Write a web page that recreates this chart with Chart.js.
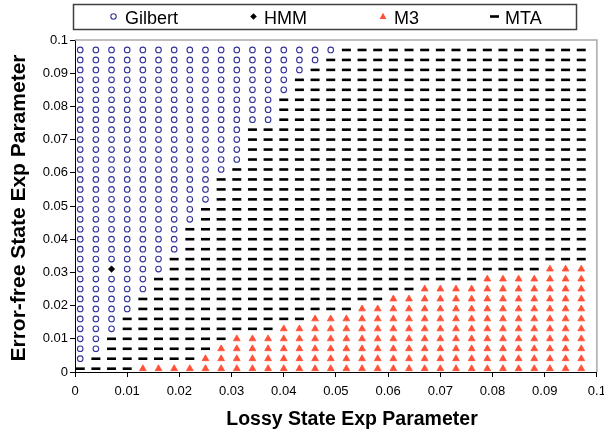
<!DOCTYPE html>
<html><head><meta charset="utf-8">
<script src="https://cdn.jsdelivr.net/npm/chart.js@4/dist/chart.umd.min.js"></script>
<style>html,body{margin:0;padding:0;background:#fff;}canvas{display:block;}</style>
</head><body>
<canvas id="c" width="604" height="438"></canvas>
<script>
// Grid of parameter values (x: lossy state, y: error-free state)
const xValues = [0.001,0.004,0.007,0.010,0.013,0.016,0.019,0.022,0.025,0.028,0.031,0.034,0.037,0.040,0.043,0.046,0.049,0.052,0.055,0.058,0.061,0.064,0.067,0.070,0.073,0.076,0.079,0.082,0.085,0.088,0.091,0.094,0.097];
const yValues = [0.001,0.004,0.007,0.010,0.013,0.016,0.019,0.022,0.025,0.028,0.031,0.034,0.037,0.040,0.043,0.046,0.049,0.052,0.055,0.058,0.061,0.064,0.067,0.070,0.073,0.076,0.079,0.082,0.085,0.088,0.091,0.094,0.097];
// Per column: lowest y where Gilbert is chosen (null = never)
const gilbertFromY = [0.004,0.007,0.013,0.019,0.025,0.031,0.037,0.046,0.052,0.061,0.064,0.076,0.076,0.085,0.091,0.094,0.097,null,null,null,null,null,null,null,null,null,null,null,null,null,null,null,null];
// Per column: highest y where M3 is chosen (null = never)
const m3UpToY = [null,null,null,null,0.001,0.001,0.001,0.001,0.004,0.007,0.010,0.010,0.010,0.013,0.013,0.016,0.016,0.016,0.019,0.019,0.022,0.022,0.025,0.025,0.025,0.025,0.028,0.028,0.028,0.028,0.031,0.031,0.031];
// HMM points
const hmmX = [0.007];
const hmmY = [0.031];
const seriesNames = ['Gilbert','HMM','M3','MTA'];
const xTitle = 'Lossy State Exp Parameter';
const yTitle = 'Error-free State Exp Parameter';

const EPS = 1e-9;
const gilbert = [], hmm = [], m3 = [], mta = [];
hmmX.forEach((x,k)=>hmm.push({x:x, y:hmmY[k]}));
xValues.forEach((x,i)=>{
  yValues.forEach(y=>{
    if (hmm.some(p=>Math.abs(p.x-x)<EPS && Math.abs(p.y-y)<EPS)) return;
    if (gilbertFromY[i]!==null && y >= gilbertFromY[i]-EPS) gilbert.push({x,y});
    else if (m3UpToY[i]!==null && y <= m3UpToY[i]+EPS) m3.push({x,y});
    else mta.push({x,y});
  });
});

const FONT = '"Liberation Sans", Arial, Helvetica, sans-serif';
const BLUE = '#333399', RED = '#FF5037';

function drawMarker(ctx, style, x, y) {
  ctx.save();
  if (style === 'circle') {
    ctx.strokeStyle = BLUE; ctx.lineWidth = 1.1;
    ctx.beginPath(); ctx.arc(x, y, 2.7, 0, Math.PI*2); ctx.stroke();
  } else if (style === 'rectRot') {
    ctx.fillStyle = '#000';
    ctx.beginPath(); ctx.moveTo(x, y-3.3); ctx.lineTo(x+3.3, y); ctx.lineTo(x, y+3.3); ctx.lineTo(x-3.3, y); ctx.closePath(); ctx.fill();
  } else if (style === 'triangle') {
    ctx.fillStyle = RED;
    ctx.beginPath(); ctx.moveTo(x, y-3.8); ctx.lineTo(x+3.4, y+2.6); ctx.lineTo(x-3.4, y+2.6); ctx.closePath(); ctx.fill();
  } else {
    ctx.strokeStyle = '#000'; ctx.lineWidth = 2.6;
    ctx.beginPath(); ctx.moveTo(x-4.5, y); ctx.lineTo(x+4.5, y); ctx.stroke();
  }
  ctx.restore();
}

const legendPlugin = {
  id: 'boxLegend',
  afterDraw(chart) {
    const ctx = chart.ctx;
    ctx.save();
    ctx.strokeStyle = '#404040'; ctx.lineWidth = 1.5;
    ctx.strokeRect(73.5, 4.5, 503, 25);
    ctx.font = '18px ' + FONT;
    ctx.fillStyle = '#000'; ctx.textBaseline = 'alphabetic'; ctx.textAlign = 'left';
    const markerX = [113.5, 253.5, 383, 494.5];
    const textX = [125, 264, 394, 505];
    chart.data.datasets.forEach((ds, k) => {
      drawMarker(ctx, ds.pointStyle, markerX[k], 16.5);
      ctx.fillText(ds.label, textX[k], 23.5);
    });
    // axis titles
    ctx.font = 'bold 19.5px ' + FONT;
    ctx.textAlign = 'center';
    ctx.fillText(xTitle, 352, 425);
    ctx.save();
    ctx.translate(25, 208);
    ctx.rotate(-Math.PI/2);
    ctx.font = 'bold 21px ' + FONT;
    ctx.fillText(yTitle, 0, 0);
    ctx.restore();
    ctx.restore();
  }
};
const framePlugin = {
  id: 'frame',
  beforeDatasetsDraw(chart) {
    const {ctx, chartArea: a} = chart;
    ctx.save();
    ctx.strokeStyle = '#A8A8A8'; ctx.lineWidth = 1.5;
    ctx.beginPath(); ctx.moveTo(a.left, a.top); ctx.lineTo(a.right, a.top); ctx.lineTo(a.right, a.bottom); ctx.stroke();
    ctx.restore();
  }
};
const tickFmt = v => String(Number(Number(v).toFixed(3)));

new Chart(document.getElementById('c'), {
  type: 'scatter',
  data: {
    datasets: [
      {label: seriesNames[0], data: gilbert, pointStyle: 'circle', pointRadius: 2.8, pointHoverRadius: 2.8, borderColor: BLUE, backgroundColor: 'rgba(0,0,0,0)', borderWidth: 1.1},
      {label: seriesNames[1], data: hmm, pointStyle: 'rectRot', pointRadius: 3.3, pointHoverRadius: 3.3, borderColor: '#000', backgroundColor: '#000', borderWidth: 0.5},
      {label: seriesNames[2], data: m3, pointStyle: 'triangle', pointRadius: 3.9, pointHoverRadius: 3.9, borderColor: RED, backgroundColor: RED, borderWidth: 0.8},
      {label: seriesNames[3], data: mta, pointStyle: 'line', pointRadius: 4.5, pointHoverRadius: 4.5, borderColor: '#000', backgroundColor: '#000', borderWidth: 2.6}
    ]
  },
  options: {
    responsive: false,
    animation: false,
    devicePixelRatio: 1,
    layout: {padding: {top: 40, right: 7, left: 0, bottom: 0}},
    plugins: {legend: {display: false}, tooltip: {enabled: false}},
    scales: {
      x: {
        type: 'linear', min: 0, max: 0.1,
        ticks: {stepSize: 0.01, color: '#000', font: {family: FONT, size: 13}, padding: 7, maxRotation: 0, callback: tickFmt},
        grid: {display: true, drawOnChartArea: false, drawTicks: true, tickLength: 5, color: '#000'},
        border: {display: true, color: '#000', width: 1},
        title: {display: false},
        afterFit(s) { s.height = 66; s.paddingLeft = 0; s.paddingRight = 0; }
      },
      y: {
        type: 'linear', min: 0, max: 0.1,
        ticks: {stepSize: 0.01, color: '#000', font: {family: FONT, size: 13}, padding: 2, callback: tickFmt},
        grid: {display: true, drawOnChartArea: false, drawTicks: true, tickLength: 5, color: '#000'},
        border: {display: true, color: '#000', width: 1},
        title: {display: false},
        afterFit(s) { s.width = 75; s.paddingTop = 0; s.paddingBottom = 0; }
      }
    }
  },
  plugins: [framePlugin, legendPlugin]
});
</script>
</body></html>
